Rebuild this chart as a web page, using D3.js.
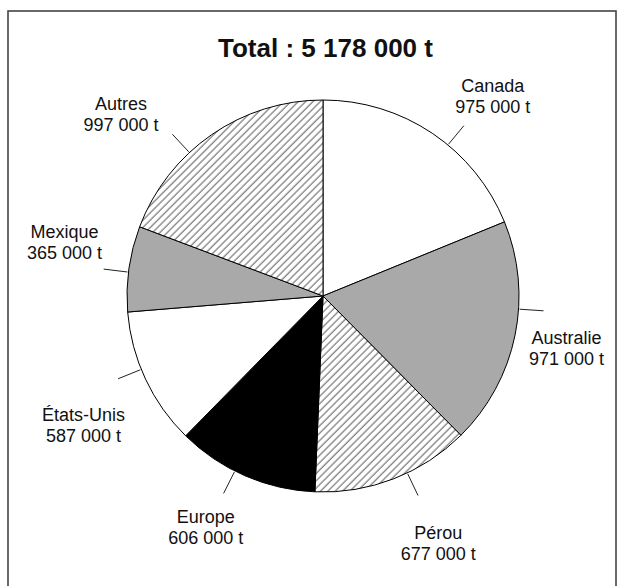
<!DOCTYPE html>
<html>
<head>
<meta charset="utf-8">
<script src="https://cdn.jsdelivr.net/npm/d3@7"></script>
<style>
    body { margin: 0; background: #fff; }
    #pie-area { width: 623px; height: 586px; }
    text { font-family: "Liberation Sans", Arial, sans-serif; fill: #111; }
</style>
</head>
<body>
<div id="pie-area"></div>
<script>

// data (tonnes)
let countries = ["Canada", "Australie", "Pérou", "Europe", "États-Unis", "Mexique", "Autres"];
let tonnes = [975000, 971000, 677000, 606000, 587000, 365000, 997000];
let fills = ["white", "gray", "hatch", "black", "white", "gray", "hatch"];
let titleText = "Total : 5 178 000 t";

// label placement tweaks (degrees from slice middle, radius in px)
let labelTurn = [6.5, 0.5, -3.8, 3.5, -3.2, 3.8, -13.3];
let labelRadius = [262, 249, 273, 259, 272, 264, 272];
let leaderTurn = [5.7, -7.7, -4.3, 3.3, 3.1, -1, -8.3];


/* * * * * * * * * * * * * *
 *      class PieVis        *
 * * * * * * * * * * * * * */

class PieVis {

    constructor(parentElement, data) {
        this.parentElement = parentElement;
        this.data = data;
        this.initVis();
    }

    initVis() {
        let vis = this;

        vis.width = 623;
        vis.height = 586;
        vis.radius = 196;
        vis.cx = 323;
        vis.cy = 296;

        vis.svg = d3.select("#" + vis.parentElement).append("svg")
            .attr("width", vis.width)
            .attr("height", vis.height);

        // hatch pattern
        vis.svg.append("defs")
            .append("pattern")
            .attr("id", "hatch")
            .attr("patternUnits", "userSpaceOnUse")
            .attr("width", 5.2)
            .attr("height", 10)
            .attr("patternTransform", "rotate(45)")
            .call(p => p.append("rect").attr("width", 5.2).attr("height", 10).attr("fill", "white"))
            .append("line")
            .attr("x1", 1).attr("y1", 0)
            .attr("x2", 1).attr("y2", 10)
            .attr("stroke", "#222")
            .attr("stroke-width", 0.8);

        // frame
        vis.svg.append("rect")
            .attr("x", 8)
            .attr("y", 11)
            .attr("width", 608)
            .attr("height", 620)
            .attr("fill", "none")
            .attr("stroke", "#444")
            .attr("stroke-width", 1.6);

        // title
        vis.svg.append("text")
            .attr("class", "title")
            .attr("x", 325.5)
            .attr("y", 57)
            .attr("text-anchor", "middle")
            .attr("textLength", 215)
            .attr("lengthAdjust", "spacingAndGlyphs")
            .style("font-size", "25px")
            .style("font-weight", "bold")
            .text(titleText);

        vis.g = vis.svg.append("g")
            .attr("transform", `translate(${vis.cx}, ${vis.cy})`);

        vis.pie = d3.pie()
            .sort(null)
            .value(d => d.value);

        vis.arc = d3.arc()
            .innerRadius(0)
            .outerRadius(vis.radius);

        vis.colorOf = {
            white: "white",
            gray: "#a9a9a9",
            black: "black",
            hatch: "url(#hatch)"
        };

        this.wrangleData();
    }

    wrangleData() {
        let vis = this;

        vis.displayData = vis.pie(vis.data);

        vis.updateVis();
    }

    updateVis() {
        let vis = this;
        let toRad = Math.PI / 180;

        // slices
        vis.g.selectAll(".slice")
            .data(vis.displayData)
            .enter()
            .append("path")
            .attr("class", "slice")
            .attr("d", vis.arc)
            .attr("fill", d => vis.colorOf[d.data.fill])
            .attr("stroke", "black")
            .attr("stroke-width", 1)
            .attr("stroke-linejoin", "round");

        let mid = d => (d.startAngle + d.endAngle) / 2;

        // leader lines
        vis.g.selectAll(".leader")
            .data(vis.displayData)
            .enter()
            .append("line")
            .attr("class", "leader")
            .attr("x1", (d, i) => (vis.radius + 1) * Math.sin(mid(d) + leaderTurn[i] * toRad))
            .attr("y1", (d, i) => -(vis.radius + 1) * Math.cos(mid(d) + leaderTurn[i] * toRad))
            .attr("x2", (d, i) => (vis.radius + 25) * Math.sin(mid(d) + leaderTurn[i] * toRad))
            .attr("y2", (d, i) => -(vis.radius + 25) * Math.cos(mid(d) + leaderTurn[i] * toRad))
            .attr("stroke", "#222")
            .attr("stroke-width", 1);

        // labels
        let labels = vis.g.selectAll(".label")
            .data(vis.displayData)
            .enter()
            .append("text")
            .attr("class", "label")
            .attr("text-anchor", "middle")
            .style("font-size", "18px")
            .attr("transform", (d, i) => {
                let a = mid(d) + labelTurn[i] * toRad;
                let x = labelRadius[i] * Math.sin(a);
                let y = -labelRadius[i] * Math.cos(a);
                return `translate(${x}, ${y})`;
            });

        labels.append("tspan")
            .attr("x", 0)
            .attr("y", -4)
            .text(d => d.data.name);

        labels.append("tspan")
            .attr("x", 0)
            .attr("y", 17)
            .text(d => d3.format(",")(d.data.value).replace(/,/g, " ") + " t");
    }
}

let pieData = countries.map((c, i) => ({name: c, value: tonnes[i], fill: fills[i]}));
let myPieVis = new PieVis("pie-area", pieData);

</script>
</body>
</html>
